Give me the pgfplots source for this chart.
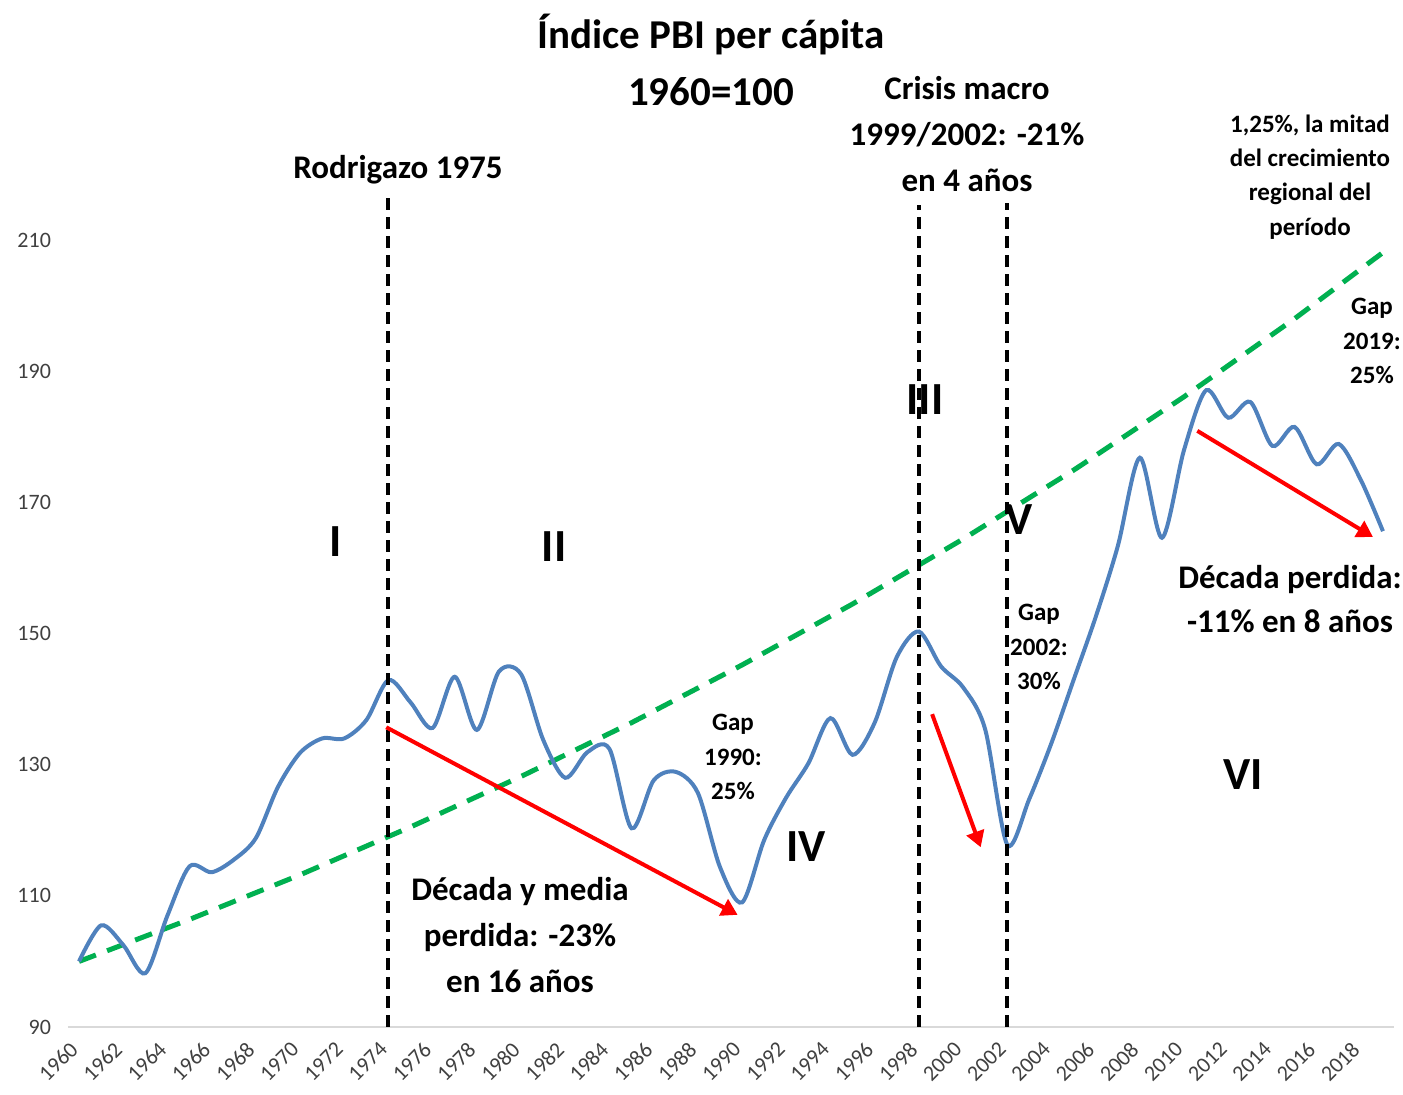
\documentclass[border=0pt]{standalone}
\usepackage{fontspec}
\setmainfont{Carlito}
\usepackage{pgfplots}
\usepackage{pgfplotstable}
\pgfplotsset{compat=1.18}
\usetikzlibrary{arrows.meta}

\definecolor{lineblue}{RGB}{79,129,189}
\definecolor{trendgreen}{RGB}{0,176,80}
\definecolor{ticklabel}{RGB}{64,64,64}
\definecolor{axisgray}{RGB}{217,217,217}

% PBI per capita index, 1960=100
\pgfplotstableread{
year idx
1960 100
1961 105.5
1962 102.5
1963 98.2
1964 107
1965 114.5
1966 113.6
1967 115.5
1968 118.8
1969 126.6
1970 131.8
1971 134
1972 134
1973 136.8
1974 142.9
1975 139.5
1976 135.6
1977 143.4
1978 135.3
1979 144.2
1980 143.8
1981 133.8
1982 128
1983 131.9
1984 132.4
1985 120.3
1986 127.6
1987 128.9
1988 125.7
1989 114.4
1990 109
1991 118.5
1992 125
1993 130.2
1994 137.1
1995 131.5
1996 136.4
1997 146.4
1998 150.3
1999 145
2000 141.8
2001 135.4
2002 117.8
2003 124.8
2004 133.3
2005 142.9
2006 152.5
2007 163.3
2008 176.8
2009 164.6
2010 178
2011 187.1
2012 182.9
2013 185.3
2014 178.6
2015 181.5
2016 175.8
2017 178.9
2018 173.4
2019 165.6
}\pbidata

% regional trend, 1.25% a year
\pgfplotstableread{
year trend
1960 100
1965 106.4
1970 113.2
1975 120.5
1980 128.2
1985 136.4
1990 145.2
1995 154.5
2000 164.4
2005 174.9
2010 186.1
2015 198.0
2019 208.1
}\trenddata

\begin{document}
\begin{tikzpicture}
\path[use as bounding box] (-34pt,-34pt) rectangle (667.5pt,513.5pt);
\begin{axis}[
  scale only axis,
  width=663pt, height=414.8pt,
  xmin=1959.5, xmax=2019.5,
  ymin=90, ymax=216.5,
  clip=false,
  axis lines*=left,
  axis line style={-},
  x axis line style={draw=axisgray, line width=1pt},
  y axis line style={draw=none},
  major tick length=0pt,
  xtick={1960,1962,...,2018},
  ytick={90,110,...,210},
  scaled x ticks=false,
  /pgf/number format/assume math mode=true,
  /pgf/number format/1000 sep={},
  ticklabel style={font=\fontsize{11}{13}\selectfont, text=ticklabel},
  xticklabel style={rotate=45, anchor=east},
  xticklabel shift=7pt,
  yticklabel style={xshift=-5pt},
]
\addplot[trendgreen, line width=2.5pt, dash pattern=on 9pt off 6pt] table[x=year, y=trend] {\trenddata};
\addplot[lineblue, line width=2pt, smooth, tension=0.5] table[x=year, y=idx] {\pbidata};

\addplot[black, line width=2pt, dash pattern=on 6pt off 3.5pt] coordinates {(1974,90) (1974,216.4)};
\addplot[black, line width=2pt, dash pattern=on 6pt off 3.5pt] coordinates {(1998,90) (1998,215.3)};
\addplot[black, line width=2pt, dash pattern=on 6pt off 3.5pt] coordinates {(2002,90) (2002,215.6)};

\addplot[red, line width=2pt, -{Triangle[length=8pt, width=9pt]}] coordinates {(1973.9,135.7) (1989.8,107.1)};
\addplot[red, line width=2pt, -{Triangle[length=8pt, width=9pt]}] coordinates {(1998.6,137.7) (2000.8,117.4)};
\addplot[red, line width=2pt, -{Triangle[length=8pt, width=9pt]}] coordinates {(2010.6,180.9) (2018.55,164.7)};
\end{axis}

% annotations, in pixel units of the reference
\begin{scope}[x=0.5pt, y=-0.5pt, shift={(-34pt,513.5pt)}]
\node[font=\bfseries\fontsize{20.5}{24}\selectfont] at (711,35) {Índice PBI per cápita};
\node[font=\bfseries\fontsize{20.5}{24}\selectfont] at (711,92) {1960=100};
\node[font=\bfseries\fontsize{16.5}{20}\selectfont] at (398,170) {Rodrigazo 1975};
\node[font=\bfseries\fontsize{16.5}{23}\selectfont, align=center] at (967,134) {Crisis macro\\1999/2002: -21\%\\en 4 años};
\node[font=\bfseries\fontsize{12.5}{17.2}\selectfont, align=center] at (1310,177) {1,25\%, la mitad\\del crecimiento\\regional del\\período};
\node[font=\bfseries\fontsize{12.5}{17.2}\selectfont, align=center] at (1372,341) {Gap\\2019:\\25\%};
\node[font=\bfseries\fontsize{12.5}{17.2}\selectfont, align=center] at (733,757) {Gap\\1990:\\25\%};
\node[font=\bfseries\fontsize{12.5}{17.2}\selectfont, align=center] at (1039,647) {Gap\\2002:\\30\%};
\node[font=\bfseries\fontsize{16.5}{23}\selectfont, align=center] at (520,935) {Década y media\\perdida: -23\%\\en 16 años};
\node[font=\bfseries\fontsize{16.5}{22}\selectfont, align=center] at (1290,599) {Década perdida:\\-11\% en 8 años};

\node[font=\bfseries\fontsize{23}{26}\selectfont] at (336,542) {I};
\node[font=\bfseries\fontsize{23}{26}\selectfont] at (554,547) {II};
\node[font=\bfseries\fontsize{23}{26}\selectfont] at (925,400) {III};
\node[font=\bfseries\fontsize{23}{26}\selectfont] at (806,847) {IV};
\node[font=\bfseries\fontsize{23}{26}\selectfont] at (1019,520) {V};
\node[font=\bfseries\fontsize{23}{26}\selectfont] at (1243,775) {VI};
\end{scope}
\end{tikzpicture}
\end{document}
